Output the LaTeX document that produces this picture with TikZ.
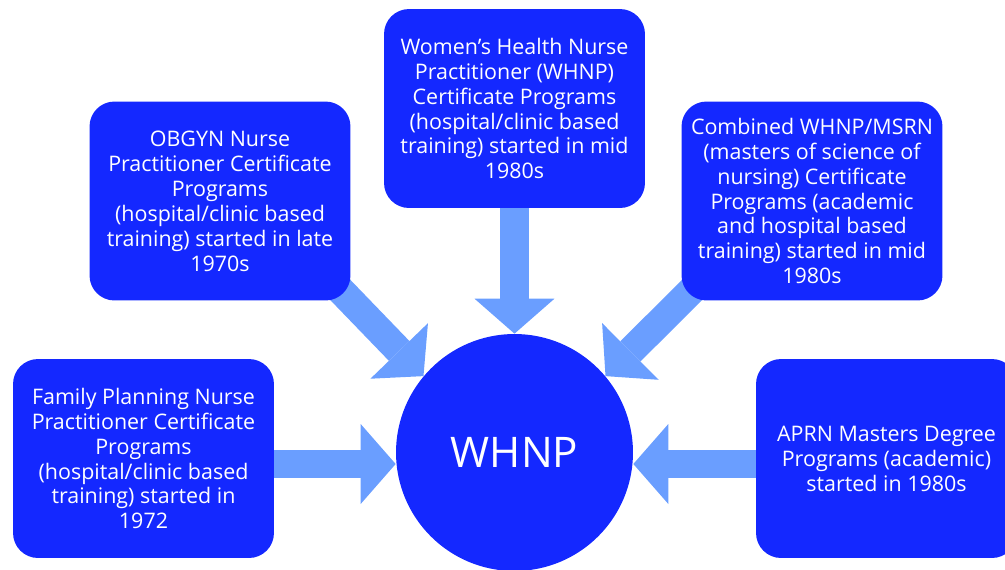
\documentclass[tikz,border=0pt]{standalone}
\usepackage{fontspec}
\setmainfont{Open Sans}
\usetikzlibrary{arrows.meta, backgrounds}

\definecolor{boxblue}{RGB}{20,40,255}
\definecolor{arrowblue}{RGB}{106,158,255}

\tikzset{
  infobox/.style={
    rectangle, rounded corners=0.5cm, fill=boxblue, text=white,
    minimum width=5.22cm, minimum height=3.98cm, inner sep=0pt,
    align=center, font=\fontsize{12.2}{14.2}\selectfont
  },
  hubcircle/.style={
    circle, fill=boxblue, text=white, minimum size=4.74cm, inner sep=0pt,
    font=\fontsize{24}{28}\selectfont
  },
  bigarrow/.style={
    draw=arrowblue, line width=0.57cm,
    -{Triangle[length=0.7cm, width=1.6cm, line width=0pt, fill=arrowblue]}
  }
}

\begin{document}
\begin{tikzpicture}[x=0.02cm, y=-0.02cm]

    \path[use as bounding box, clip] (0,0) rectangle (1005,569);

    % Centre
    \node[hubcircle] (hub) at (514.5,452.5) {WHNP};

    % Boxes round the centre
    \node[infobox] (fp) at (143.5,458.5) {Family Planning Nurse\\Practitioner Certificate\\Programs\\(hospital/clinic based\\training) started in\\1972};
    \node[infobox] (ob) at (220,201) {OBGYN Nurse\\Practitioner Certificate\\Programs\\(hospital/clinic based\\training) started in late\\1970s};
    \node[infobox] (wh) at (514.5,108.5) {Women’s Health Nurse\\Practitioner (WHNP)\\Certificate Programs\\(hospital/clinic based\\training) started in mid\\1980s};
    \node[infobox] (cw) at (812,201) {Combined WHNP/MSRN\\(masters of science of\\nursing) Certificate\\Programs (academic\\and hospital based\\training) started in mid\\1980s};
    \node[infobox] (ap) at (886.5,458.5) {APRN Masters Degree\\Programs (academic)\\started in 1980s};

    % Arrows into the centre
    \begin{pgfonlayer}{background}
    \draw[bigarrow] ([yshift=-0.11cm]fp.east) -- ([yshift=-0.11cm]fp.east -| hub.west);
    \draw[bigarrow, shorten <=-0.6cm] (ob.south east) -- (hub.140);
    \draw[bigarrow] (wh.south) -- (hub.north);
    \draw[bigarrow, shorten <=-0.6cm] (cw.south west) -- (hub.40);
    \draw[bigarrow] ([yshift=-0.11cm]ap.west) -- ([yshift=-0.11cm]ap.west -| hub.east);
    \end{pgfonlayer}

\end{tikzpicture}
\end{document}
